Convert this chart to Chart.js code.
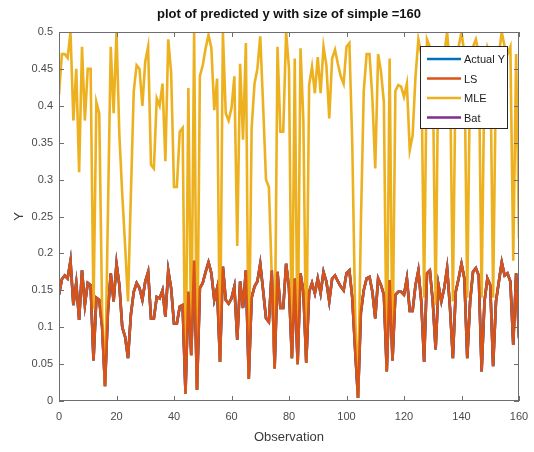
<!DOCTYPE html>
<html lang="en">
<head>
<meta charset="utf-8">
<title>plot of predicted y with size of simple =160</title>
<script src="https://cdn.jsdelivr.net/npm/chart.js@4.4.1/dist/chart.umd.min.js"></script>
<style>
  html, body { margin: 0; padding: 0; background: #fff; }
  canvas { display: block; }
</style>
</head>
<body>
<canvas id="plot" width="534" height="452"></canvas>
<script>
// ── Dados ─────────────────────────────────────────────────────
const TITLE = "plot of predicted y with size of simple =160";
const OBSERVATION = Array.from({ length: 161 }, (_, i) => i);

const LS_Y = [
  0.144, 0.165, 0.17, 0.166, 0.19, 0.13, 0.16, 0.11, 0.177, 0.13,
  0.16, 0.157, 0.055, 0.14, 0.137, 0.1, 0.02, 0.12, 0.173, 0.135,
  0.186, 0.157, 0.1, 0.087, 0.058, 0.117, 0.148, 0.16, 0.153, 0.137,
  0.162, 0.175, 0.112, 0.112, 0.141, 0.139, 0.15, 0.114, 0.177, 0.153,
  0.105, 0.105, 0.128, 0.13, 0.01, 0.148, 0.062, 0.19, 0.015, 0.153,
  0.16, 0.175, 0.188, 0.173, 0.137, 0.153, 0.053, 0.182, 0.137, 0.132,
  0.139, 0.155, 0.083, 0.162, 0.126, 0.177, 0.03, 0.14, 0.155, 0.162,
  0.186, 0.15, 0.112, 0.107, 0.177, 0.044, 0.175, 0.126, 0.126, 0.186,
  0.153, 0.058, 0.166, 0.05, 0.173, 0.148, 0.052, 0.148, 0.16, 0.146,
  0.166, 0.146, 0.175, 0.162, 0.135, 0.166, 0.17, 0.162, 0.155, 0.15,
  0.173, 0.177, 0.14, 0.07, 0.004, 0.12, 0.15, 0.166, 0.168, 0.148,
  0.112, 0.166, 0.157, 0.144, 0.04, 0.164, 0.055, 0.144, 0.148, 0.148,
  0.144, 0.166, 0.122, 0.122, 0.157, 0.177, 0.135, 0.053, 0.173, 0.177,
  0.135, 0.07, 0.157, 0.135, 0.153, 0.18, 0.126, 0.058, 0.148, 0.166,
  0.186, 0.166, 0.058, 0.135, 0.175, 0.18, 0.17, 0.04, 0.135, 0.166,
  0.157, 0.047, 0.135, 0.162, 0.188, 0.17, 0.173, 0.162, 0.076, 0.173,
  0.085,
];

const MLE_Y = [
  0.415, 0.47, 0.47, 0.465, 0.5, 0.38, 0.45, 0.31, 0.48, 0.38,
  0.45, 0.45, 0.125, 0.405, 0.39, 0.12, 0.02, 0.25, 0.48, 0.39,
  0.5, 0.36, 0.28, 0.21, 0.135, 0.28, 0.42, 0.455, 0.45, 0.4,
  0.46, 0.48, 0.32, 0.315, 0.41, 0.4, 0.43, 0.325, 0.49, 0.445,
  0.29, 0.29, 0.365, 0.37, 0.01, 0.424, 0.062, 0.5, 0.015, 0.44,
  0.455, 0.478, 0.496, 0.478, 0.394, 0.437, 0.053, 0.5, 0.39, 0.38,
  0.397, 0.44, 0.21, 0.457, 0.354, 0.485, 0.03, 0.37, 0.43, 0.45,
  0.494, 0.4, 0.3, 0.29, 0.17, 0.044, 0.48, 0.365, 0.365, 0.5,
  0.45, 0.058, 0.464, 0.05, 0.478, 0.38, 0.052, 0.428, 0.453, 0.417,
  0.466, 0.417, 0.48, 0.455, 0.383, 0.464, 0.476, 0.457, 0.44, 0.43,
  0.48, 0.485, 0.35, 0.12, 0.004, 0.24, 0.42, 0.47, 0.47, 0.41,
  0.315, 0.47, 0.446, 0.405, 0.04, 0.464, 0.058, 0.42, 0.428, 0.426,
  0.412, 0.43, 0.34, 0.36, 0.44, 0.49, 0.47, 0.14, 0.49, 0.48,
  0.45, 0.13, 0.48, 0.45, 0.47, 0.5, 0.45, 0.135, 0.46, 0.48,
  0.5, 0.47, 0.14, 0.45, 0.48, 0.49, 0.47, 0.14, 0.45, 0.48,
  0.47, 0.14, 0.45, 0.47, 0.5, 0.48, 0.47, 0.48, 0.19, 0.47,
  0.22,
];

// Actual Y e Bat ficam escondidas debaixo da curva LS no original
const ACTUAL_Y = LS_Y;
const BAT_Y = LS_Y;

const X_TICKS = [0, 20, 40, 60, 80, 100, 120, 140, 160];
const Y_TICKS = [0, 0.05, 0.1, 0.15, 0.2, 0.25, 0.3, 0.35, 0.4, 0.45, 0.5];

const SERIES_NAMES = ["Actual Y", "LS", "MLE", "Bat"];
const SERIES_COLORS = ["#0072BD", "#D95319", "#EDB120", "#7E2F8E"];

const FONT = "'Liberation Sans', Arial, Helvetica, sans-serif";
const AXIS_COLOR = "#6e6e6e";

function points(values) {
  return values.map((v, i) => ({ x: OBSERVATION[i], y: v }));
}

// ── Título centrado sobre os eixos (como no MATLAB) ──────────
const titlePlugin = {
  id: "axesTitle",
  afterDraw(chart) {
    const { ctx, chartArea: a } = chart;
    ctx.save();
    ctx.font = "bold 13px " + FONT;
    ctx.fillStyle = "#111";
    ctx.textAlign = "center";
    ctx.textBaseline = "middle";
    ctx.fillText(TITLE, (a.left + a.right) / 2, 14);
    ctx.restore();
  },
};

// ── Caixa com ticks para dentro (estilo MATLAB) ───────────────
const boxPlugin = {
  id: "matlabBox",
  afterDatasetsDraw(chart) {
    const { ctx, chartArea: a, scales } = chart;
    const len = 5;
    ctx.save();
    ctx.strokeStyle = AXIS_COLOR;
    ctx.lineWidth = 1;
    ctx.strokeRect(a.left + 0.5, a.top + 0.5, a.right - a.left - 1, a.bottom - a.top - 1);
    ctx.beginPath();
    X_TICKS.forEach((t) => {
      const px = Math.round(scales.x.getPixelForValue(t)) + 0.5;
      ctx.moveTo(px, a.bottom);
      ctx.lineTo(px, a.bottom - len);
      ctx.moveTo(px, a.top);
      ctx.lineTo(px, a.top + len);
    });
    Y_TICKS.forEach((t) => {
      const py = Math.round(scales.y.getPixelForValue(t)) + 0.5;
      ctx.moveTo(a.left, py);
      ctx.lineTo(a.left + len, py);
      ctx.moveTo(a.right, py);
      ctx.lineTo(a.right - len, py);
    });
    ctx.stroke();
    ctx.restore();
  },
};

// ── Legenda dentro do gráfico (canto superior direito) ───────
const legendPlugin = {
  id: "insideLegend",
  afterDraw(chart) {
    const { ctx, chartArea: a } = chart;
    const w = 87;
    const h = 82;
    const x0 = a.right - 12 - w;
    const y0 = a.top + 14;
    ctx.save();
    ctx.fillStyle = "#fff";
    ctx.fillRect(x0, y0, w, h);
    ctx.strokeStyle = "#262626";
    ctx.lineWidth = 1;
    ctx.strokeRect(x0 + 0.5, y0 + 0.5, w, h);
    ctx.font = "11px " + FONT;
    ctx.textBaseline = "middle";
    chart.data.datasets.forEach((ds, i) => {
      const y = y0 + 13 + i * 19.5;
      ctx.strokeStyle = ds.borderColor;
      ctx.lineWidth = 2.6;
      ctx.beginPath();
      ctx.moveTo(x0 + 7, y);
      ctx.lineTo(x0 + 41, y);
      ctx.stroke();
      ctx.fillStyle = "#1a1a1a";
      ctx.fillText(ds.label, x0 + 44, y + 1);
    });
    ctx.restore();
  },
};

// ── Gráfico ───────────────────────────────────────────────────
const seriesData = [ACTUAL_Y, LS_Y, MLE_Y, BAT_Y];
const drawOrder = [3, 1, 2, 4]; // LS por cima

new Chart(document.getElementById("plot"), {
  type: "line",
  data: {
    datasets: seriesData.map((vals, i) => ({
      label: SERIES_NAMES[i],
      data: points(vals),
      borderColor: SERIES_COLORS[i],
      backgroundColor: SERIES_COLORS[i],
      borderWidth: 2.6,
      pointRadius: 0,
      tension: 0,
      fill: false,
      order: drawOrder[i],
    })),
  },
  options: {
    responsive: false,
    animation: false,
    layout: { padding: { top: 32, left: 0, right: 15, bottom: 0 } },
    plugins: {
      legend: { display: false },
      tooltip: { enabled: false },
      title: { display: false },
    },
    scales: {
      x: {
        type: "linear",
        min: 0,
        max: 160,
        afterFit: (s) => {
          s.height = 51;
          s.paddingLeft = 0;
          s.paddingRight = 0;
        },
        afterBuildTicks: (s) => { s.ticks = X_TICKS.map((v) => ({ value: v })); },
        grid: { display: false, drawTicks: false },
        border: { display: false },
        ticks: {
          color: "#4a4a4a",
          padding: 9,
          maxRotation: 0,
          font: { family: FONT, size: 11 },
        },
        title: {
          display: true,
          text: "Observation",
          color: "#3a3a3a",
          font: { family: FONT, size: 13 },
          padding: { top: 0, bottom: 7 },
        },
      },
      y: {
        min: 0,
        max: 0.5,
        afterFit: (s) => {
          s.width = 59;
          s.paddingTop = 0;
          s.paddingBottom = 0;
        },
        afterBuildTicks: (s) => { s.ticks = Y_TICKS.map((v) => ({ value: v })); },
        grid: { display: false, drawTicks: false },
        border: { display: false },
        ticks: {
          color: "#4a4a4a",
          padding: 6,
          font: { family: FONT, size: 11 },
          callback: (v) => String(Number(v.toFixed(2))),
        },
        title: {
          display: true,
          text: "Y",
          color: "#3a3a3a",
          font: { family: FONT, size: 13 },
          padding: { top: 12, bottom: 0 },
        },
      },
    },
  },
  plugins: [titlePlugin, boxPlugin, legendPlugin],
});
</script>
</body>
</html>
